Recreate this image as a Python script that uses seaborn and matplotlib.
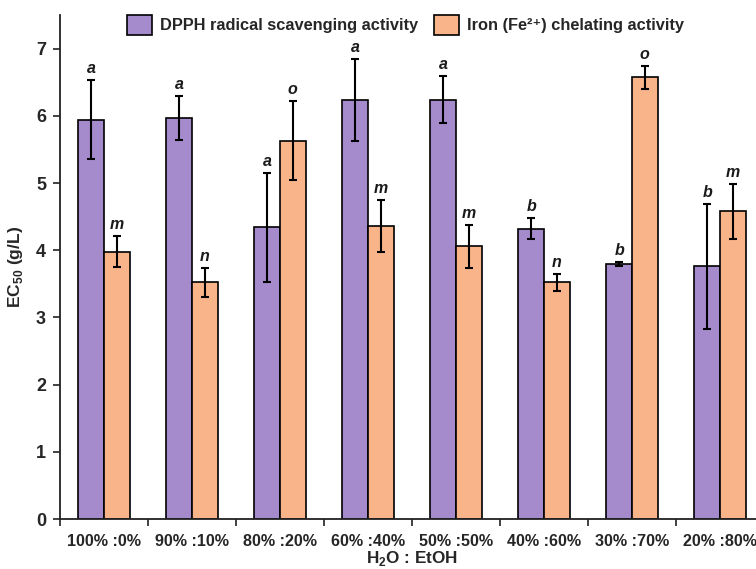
import matplotlib
matplotlib.use("Agg")
import matplotlib.pyplot as plt
import seaborn as sns
import pandas as pd
import numpy as np

categories = ["100%:0%", "90%:10%", "80%:20%", "60%:40%", "50%:50%", "40%:60%", "30%:70%", "20%:80%"]
dpph_values = [5.94, 5.97, 4.34, 6.24, 6.24, 4.32, 3.79, 3.76]
dpph_err = [0.59, 0.33, 0.81, 0.61, 0.35, 0.16, 0.03, 0.93]
dpph_letters = ["a", "a", "a", "a", "a", "b", "b", "b"]
iron_values = [3.98, 3.52, 5.63, 4.36, 4.06, 3.52, 6.57, 4.58]
iron_err = [0.23, 0.22, 0.59, 0.38, 0.32, 0.13, 0.17, 0.41]
iron_letters = ["m", "n", "o", "m", "m", "n", "o", "m"]
series = ["DPPH radical scavenging activity", "Iron (Fe\u00b2\u207a) chelating activity"]
colors = ["#A68BCC", "#F9B48A"]

df = pd.DataFrame({
    "ratio": categories * 2,
    "value": dpph_values + iron_values,
    "series": [series[0]] * len(categories) + [series[1]] * len(categories),
})

sns.set_style("white")
plt.rcParams["font.family"] = ["Liberation Sans", "DejaVu Sans"]
plt.rcParams["font.weight"] = "bold"
plt.rcParams["mathtext.fontset"] = "custom"
plt.rcParams["mathtext.rm"] = "Liberation Sans:bold"
plt.rcParams["mathtext.bf"] = "Liberation Sans:bold"

fig = plt.figure(figsize=(7.56, 5.69), dpi=100)
ax = fig.add_axes([60 / 756, 50 / 569, 704 / 756, 504 / 569])

sns.barplot(data=df, x="ratio", y="value", hue="series", order=categories,
            hue_order=series, palette=colors, width=0.58, errorbar=None,
            edgecolor="black", linewidth=1.2, saturation=1, ax=ax)

errs = [dpph_err, iron_err]
letters = [dpph_letters, iron_letters]
vals = [dpph_values, iron_values]
bar_containers = list(ax.containers)
for ci, cont in enumerate(bar_containers):
    for bi, bar in enumerate(cont.patches):
        xc = bar.get_x() + bar.get_width() / 2
        v = vals[ci][bi]
        e = errs[ci][bi]
        ax.errorbar(xc, v, yerr=e, fmt="none", ecolor="black", elinewidth=1.5,
                    capsize=3, capthick=1.5, zorder=5)
        ax.text(xc, v + e + 0.06, letters[ci][bi], ha="center", va="bottom",
                fontsize=11.5, fontstyle="italic", fontweight="bold", color="#1a1a1a")

ax.set_xlim(-0.5, len(categories) - 0.5)
ax.set_ylim(0, 7.5)
ax.set_yticks(range(0, 8))
ax.tick_params(axis="y", which="major", direction="out", length=5, width=1.2,
               labelsize=13, left=True, color="#222222", pad=5)
ax.tick_params(axis="x", which="major", length=0, labelsize=11.6, pad=11)
ax.set_xticks(np.arange(-0.5, len(categories), 1.0), minor=True)
ax.tick_params(axis="x", which="minor", direction="out", length=5, width=1.2,
               bottom=True, color="#222222")
ax.set_xticks(range(len(categories)))
ax.set_xticklabels([c.replace(":", " :") for c in categories])
for lab in ax.get_xticklabels() + ax.get_yticklabels():
    lab.set_fontweight("bold")

for s in ["top", "right"]:
    ax.spines[s].set_visible(False)
for s in ["left", "bottom"]:
    ax.spines[s].set_linewidth(1.3)
    ax.spines[s].set_color("#222222")

ax.set_xlabel("H$_{\\mathbf{2}}$O : EtOH", fontsize=12.3, fontweight="bold", labelpad=0)
ax.set_ylabel("EC$_{\\mathbf{50}}$ (g/L)", fontsize=12.5, fontweight="bold", labelpad=8)

leg = ax.legend(loc="upper center", bbox_to_anchor=(0.491, 1.03), ncol=2, frameon=False,
                handlelength=1.5, handleheight=1.5, columnspacing=1.0,
                handletextpad=0.5, prop={"weight": "bold", "size": 11.8})

fig.savefig("out.png", dpi=100)
